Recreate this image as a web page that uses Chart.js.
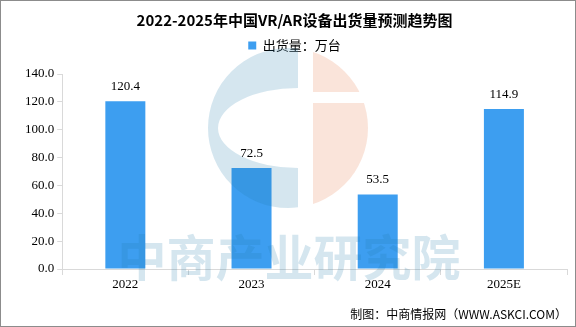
<!DOCTYPE html>
<html>
<head>
<meta charset="utf-8">
<script src="https://cdn.jsdelivr.net/npm/chart.js@4"></script>
<style>
  html, body { margin: 0; padding: 0; background: #fff; }
  #wrap { width: 576px; height: 327px; box-sizing: border-box; border: 1px solid #8c8c8c; position: relative; }
</style>
</head>
<body>
<div id="wrap"><canvas id="chart"></canvas></div>
<script>
// data
const years = ['2022', '2023', '2024', '2025E'];
const shipments = [120.4, 72.5, 53.5, 114.9];
const yTicks = [0, 20, 40, 60, 80, 100, 120, 140];

const serifFont = "'Liberation Serif', 'Noto Sans CJK SC', serif";
const cjkFont = "'Noto Sans CJK SC', sans-serif";

// semi transparent watermark drawn over the bars
const watermark = {
  id: 'watermark',
  afterDatasetsDraw(chart) {
    const ctx = chart.ctx;
    const cx = 287, cy = 127, r = 80;
    const blue = 'rgba(30,120,170,0.19)';
    const pink = 'rgba(230,110,60,0.19)';
    ctx.save();
    // left "C" part
    ctx.save();
    ctx.beginPath();
    ctx.rect(cx - r - 2, cy - r - 2, (297 - (cx - r - 2)), 2 * r + 4);
    ctx.clip();
    ctx.beginPath();
    ctx.arc(cx, cy, r, 0, Math.PI * 2);
    ctx.ellipse(297, cy, 80, 40, 0, 0, Math.PI * 2, true);
    ctx.fillStyle = blue;
    ctx.fill('evenodd');
    ctx.restore();
    // right part
    ctx.save();
    ctx.beginPath();
    ctx.rect(312, cy - r - 2, 100, 91 - (cy - r - 2));
    ctx.rect(312, 102, 100, cy + r + 2 - 102);
    ctx.clip();
    ctx.beginPath();
    ctx.arc(cx, cy, r, 0, Math.PI * 2);
    ctx.fillStyle = pink;
    ctx.fill();
    ctx.restore();
    // text
    ctx.font = "bold 49px " + cjkFont;
    ctx.fillStyle = blue;
    ctx.textAlign = 'center';
    ctx.textBaseline = 'middle';
    ctx.fillText('中商产业研究院', 288, 256);
    ctx.restore();
  }
};

// value labels above bars
const barLabels = {
  id: 'barLabels',
  afterDatasetsDraw(chart) {
    const ctx = chart.ctx;
    const meta = chart.getDatasetMeta(0);
    ctx.save();
    ctx.font = "13px " + serifFont;
    ctx.fillStyle = '#000';
    ctx.textAlign = 'center';
    ctx.textBaseline = 'bottom';
    meta.data.forEach(function(bar, i) {
      ctx.fillText(shipments[i].toFixed(1), bar.x, bar.y - 8);
    });
    ctx.restore();
  }
};

// extra gap under the legend
const legendGap = {
  id: 'legendGap',
  beforeInit(chart) {
    const fit = chart.legend.fit;
    chart.legend.fit = function() {
      fit.bind(chart.legend)();
      this.height += 12;
    };
  }
};

new Chart(document.getElementById('chart').getContext('2d'), {
  type: 'bar',
  data: {
    labels: years,
    datasets: [{
      label: '出货量：万台',
      data: shipments,
      backgroundColor: '#3d9ef0',
      barPercentage: 0.317,
      categoryPercentage: 1
    }]
  },
  options: {
    responsive: true,
    maintainAspectRatio: false,
    animation: false,
    layout: { padding: { left: 21, right: 8, top: 4, bottom: 0 } },
    scales: {
      x: {
        grid: { display: true, drawOnChartArea: false, offset: true, tickLength: 6, color: '#d9d9d9' },
        border: { color: '#d9d9d9' },
        ticks: { color: '#000', font: { family: serifFont, size: 13 }, padding: 2 }
      },
      y: {
        min: 0,
        max: 140,
        afterBuildTicks(axis) { axis.ticks = yTicks.map(v => ({ value: v })); },
        grid: { display: true, drawOnChartArea: false, tickLength: 5, color: '#d9d9d9' },
        border: { color: '#d9d9d9' },
        ticks: {
          color: '#000',
          font: { family: serifFont, size: 13 },
          padding: 3,
          callback: v => v.toFixed(1)
        }
      }
    },
    plugins: {
      title: {
        display: true,
        text: '2022-2025年中国VR/AR设备出货量预测趋势图',
        color: '#000',
        font: { family: cjkFont, size: 15, weight: 'bold' },
        padding: { top: 6, bottom: 2 }
      },
      legend: {
        display: true,
        labels: {
          color: '#000',
          font: { family: cjkFont, size: 13 },
          boxWidth: 8,
          boxHeight: 8,
          padding: 8
        }
      },
      subtitle: {
        display: true,
        position: 'bottom',
        align: 'end',
        text: '制图：中商情报网（WWW.ASKCI.COM）',
        color: '#000',
        font: { family: cjkFont, size: 12 },
        padding: { top: 13, bottom: 4 }
      },
      tooltip: { enabled: false }
    }
  },
  plugins: [watermark, barLabels, legendGap]
});
</script>
</body>
</html>
